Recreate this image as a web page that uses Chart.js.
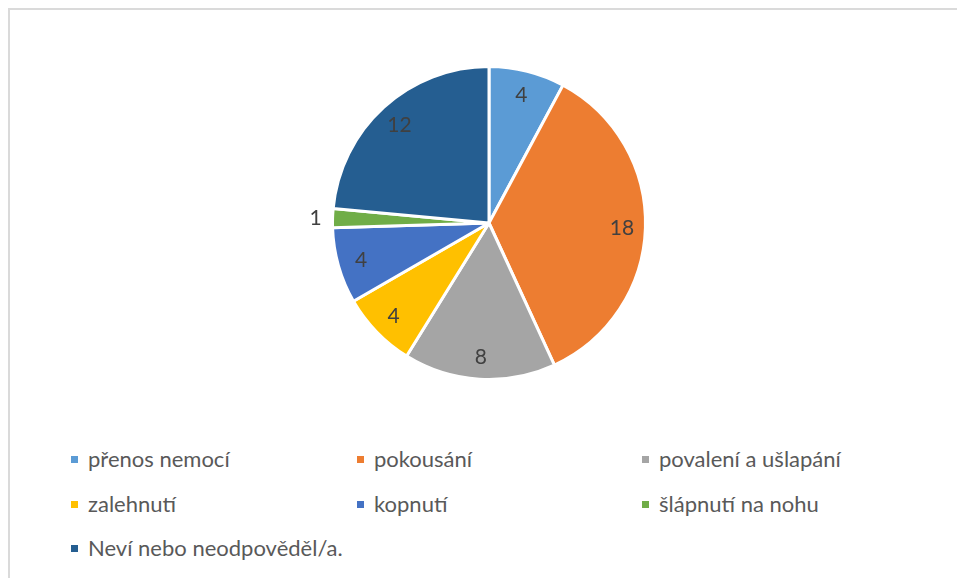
<!DOCTYPE html>
<html>
<head>
<meta charset="utf-8">
<script src="https://cdn.jsdelivr.net/npm/chart.js@4"></script>
<style>
  html, body { margin: 0; padding: 0; background: #fff; width: 957px; height: 578px; overflow: hidden; }
  #frame { position: absolute; left: 8px; top: 8px; width: 1000px; height: 1000px; border: 2px solid #dadada; box-sizing: border-box; }
  #wrap { position: absolute; left: 289px; top: 23px; width: 400px; height: 400px; }
  #legend { position: absolute; left: 71px; top: 446px; font-family: Lato, "Open Sans", sans-serif; font-size: 22px; color: #595959; }
  .item { position: absolute; white-space: nowrap; height: 28px; line-height: 28px; }
  .box { position: absolute; left: 0; top: 10px; width: 7px; height: 7px; }
  .txt { position: absolute; left: 17px; top: -1px; }
</style>
</head>
<body>
<div id="frame"></div>
<div id="wrap"><canvas id="c" width="400" height="400"></canvas></div>
<div id="legend"></div>
<script>
const categories = ["přenos nemocí", "pokousání", "povalení a ušlapání", "zalehnutí", "kopnutí", "šlápnutí na nohu", "Neví nebo neodpověděl/a."];
const values = [4, 18, 8, 4, 4, 1, 12];
const colors = ["#5B9BD5", "#ED7D31", "#A5A5A5", "#FFC000", "#4472C4", "#70AD47", "#255E91"];

const labelPlugin = {
  id: 'valueLabels',
  afterDraw(chart) {
    const ctx = chart.ctx;
    const meta = chart.getDatasetMeta(0);
    const total = values.reduce((a, b) => a + b, 0);
    ctx.save();
    ctx.font = '21px Lato, "Open Sans", sans-serif';
    ctx.fillStyle = '#404040';
    ctx.textAlign = 'center';
    ctx.textBaseline = 'middle';
    meta.data.forEach((arc, i) => {
      const p = arc.getProps(['x', 'y', 'startAngle', 'endAngle', 'outerRadius'], true);
      const mid = (p.startAngle + p.endAngle) / 2;
      const small = values[i] / total < 0.03;
      const r = small ? p.outerRadius + 17 : p.outerRadius * 0.85;
      ctx.fillText(String(values[i]), p.x + Math.cos(mid) * r, p.y + Math.sin(mid) * r + 1);
    });
    ctx.restore();
  }
};

const chart = new Chart(document.getElementById('c'), {
  type: 'pie',
  data: {
    labels: categories,
    datasets: [{ data: values, backgroundColor: colors, borderColor: '#ffffff', borderWidth: 3 }]
  },
  options: {
    responsive: false,
    animation: false,
    layout: { padding: 42 },
    plugins: { legend: { display: false }, tooltip: { enabled: false } }
  },
  plugins: [labelPlugin]
});

const legend = document.getElementById('legend');
const colX = [0, 286, 571];
const rowY = [0, 45, 89];
categories.forEach((name, i) => {
  const it = document.createElement('div');
  it.className = 'item';
  it.style.left = colX[i % 3] + 'px';
  it.style.top = rowY[Math.floor(i / 3)] + 'px';
  const b = document.createElement('div');
  b.className = 'box';
  b.style.background = colors[i];
  const t = document.createElement('span');
  t.className = 'txt';
  t.textContent = name;
  it.appendChild(b); it.appendChild(t);
  legend.appendChild(it);
});
</script>
</body>
</html>
